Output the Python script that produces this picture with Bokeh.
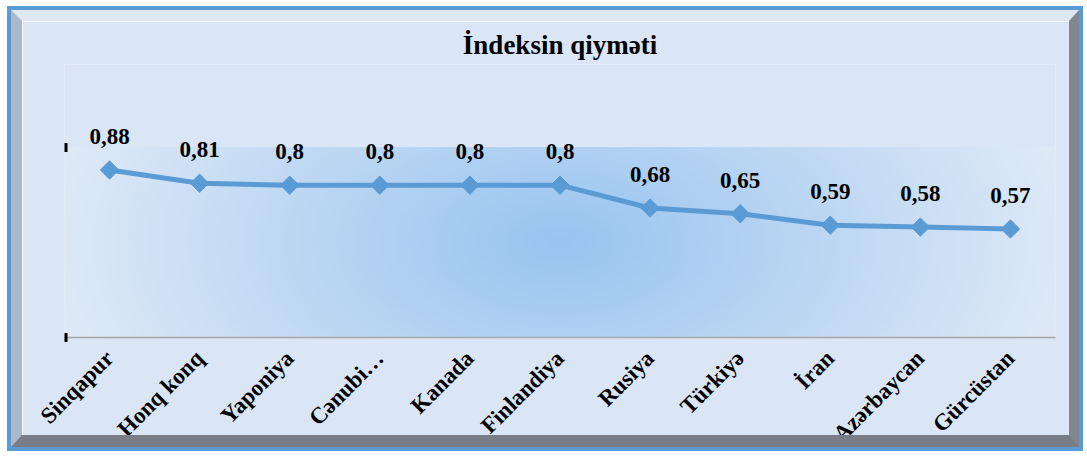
import numpy as np
from bokeh.plotting import figure
from bokeh.models import Range1d, FixedTicker, ColumnDataSource, LabelSet
from bokeh.embed import file_html
from bokeh.resources import INLINE

categories = ["Sinqapur", "Honq konq", "Yaponiya", "Cənubi…", "Kanada", "Finlandiya",
              "Rusiya", "Türkiyə", "İran", "Azərbaycan", "Gürcüstan"]
values = [0.88, 0.81, 0.80, 0.80, 0.80, 0.80, 0.68, 0.65, 0.59, 0.58, 0.57]
value_labels = ["0,88", "0,81", "0,8", "0,8", "0,8", "0,8", "0,68", "0,65", "0,59", "0,58", "0,57"]
title_text = "İndeksin qiyməti"

W, H = 1047, 414
FONT = "Liberation Serif"
BLUE = "#5b9bd5"
BG = "#dae5f6"

n = len(categories)
xs = list(range(n))

TOP_EXTRA = 0.434  # room above the value axis for the data labels

p = figure(width=W, height=H, output_backend="svg", toolbar_location=None,
           x_range=Range1d(-0.5, n - 0.5), y_range=Range1d(0, 1 + TOP_EXTRA),
           min_border_left=42, min_border_right=35, min_border_top=43, min_border_bottom=121)

p.border_fill_color = BG
p.background_fill_color = BG
p.outline_line_color = None
p.xgrid.visible = False
p.ygrid.visible = False

# bevelled frame round the chart, drawn by the page's CSS
p.styles = {
    "margin-left": "11px",
    "margin-top": "10px",
    "border-left": "11px solid #aab8cb",
    "border-top": "11px solid #dfe7f3",
    "border-right": "10px solid #82868f",
    "border-bottom": "12px solid #787d87",
    "outline": "4px solid " + BLUE,
    "box-sizing": "content-box",
}

# gradient background of the plot area
gw, gh = 300, 60
u = np.linspace(0, 1, gw)[None, :]
v = np.linspace(0, 1, gh)[:, None]
t = np.clip(np.sqrt((2 * np.abs(u - 0.5)) ** 2 * 0.9 + (2 * np.abs(v - 0.5)) ** 2 * 0.1), 0, 1)
c0 = np.array([152, 196, 240])
c1 = np.array([224, 234, 247])
img = np.empty((gh, gw), dtype=np.uint32)
view = img.view(dtype=np.uint8).reshape((gh, gw, 4))
for k in range(3):
    view[:, :, k] = (c0[k] + (c1[k] - c0[k]) * t).astype(np.uint8)
view[:, :, 3] = 255
p.image_rgba(image=[img], x=-0.5, y=0, dw=n, dh=1)

# title
p.title.text = title_text
p.title.align = "center"
p.title.offset = -9
p.title.text_font = FONT
p.title.text_font_style = "bold"
p.title.text_font_size = "27px"
p.title.text_color = "black"

# axes
p.xaxis.ticker = FixedTicker(ticks=xs)
p.xaxis.major_label_overrides = {i: c for i, c in enumerate(categories)}
p.xaxis.major_label_orientation = np.pi / 4
p.xaxis.major_label_text_font = FONT
p.xaxis.major_label_text_font_style = "bold"
p.xaxis.major_label_text_font_size = "23px"
p.xaxis.major_label_text_color = "black"
p.xaxis.major_label_standoff = 11
p.xaxis.axis_line_color = "#a6a6a6"
p.xaxis.axis_line_width = 1.5
p.xaxis.major_tick_line_color = None
p.xaxis.minor_tick_line_color = None

p.yaxis.ticker = FixedTicker(ticks=[0, 1])
p.yaxis.major_label_overrides = {0: "", 1: ""}
p.yaxis.axis_line_color = None
p.yaxis.major_tick_line_color = "black"
p.yaxis.major_tick_line_width = 9
p.yaxis.major_tick_in = 3
p.yaxis.major_tick_out = 0
p.yaxis.minor_tick_line_color = None

src = ColumnDataSource(data=dict(x=xs, y=values, lab=value_labels))
p.line("x", "y", source=src, line_color=BLUE, line_width=5)
p.scatter("x", "y", source=src, marker="square", angle=np.pi / 4, size=13,
          fill_color=BLUE, line_color=BLUE)

labels = LabelSet(x="x", y="y", text="lab", source=src, text_align="center",
                  text_baseline="alphabetic", y_offset=26, text_font=FONT,
                  text_font_style="bold", text_font_size="23px", text_color="black")
p.add_layout(labels)

open("out.html", "w").write(file_html(p, INLINE))
